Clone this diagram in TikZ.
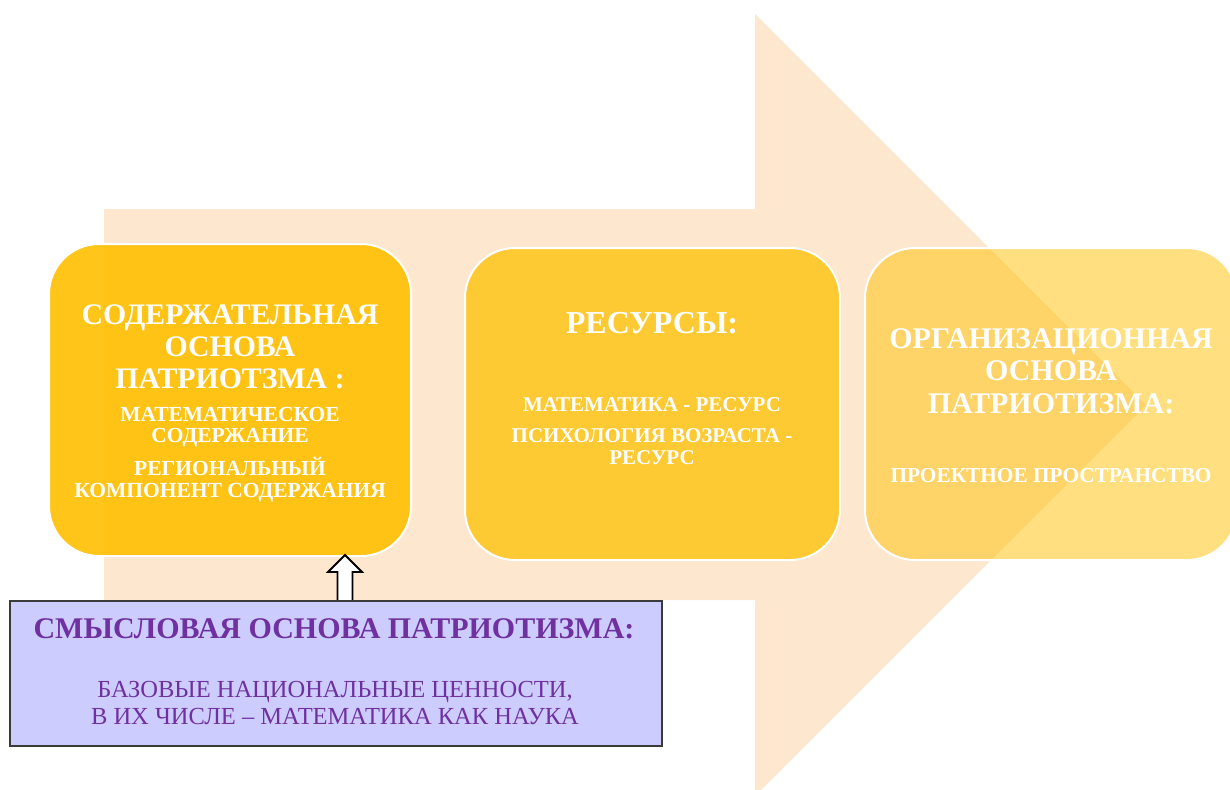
\documentclass[tikz,border=0pt]{standalone}
\usepackage{fontspec}
\setmainfont{Liberation Serif}
\definecolor{peach}{HTML}{FDE8CF}
\definecolor{gold}{HTML}{FFC000}
\definecolor{lilac}{HTML}{CCCCFF}
\definecolor{plum}{HTML}{7030A0}
\definecolor{frame}{HTML}{3A3A3A}
\tikzset{
  stagebox/.style={draw=white, line width=2pt, rounded corners=50pt, fill=gold},
  titletext/.style={text=white, font=\bfseries, align=center, inner sep=0pt, anchor=north},
  bodytext/.style={text=white, font=\bfseries, align=center, inner sep=0pt, anchor=north},
}
\begin{document}
\begin{tikzpicture}[x=1pt,y=-1pt]
\useasboundingbox (0,0) rectangle (1230,789);
\begin{scope}
\clip (0,0) rectangle (1230,789);
% big background arrow
\fill[peach] (104,209) -- (755,209) -- (755,14) -- (1146,405) -- (755,796) -- (755,600) -- (104,600) -- cycle;
% stage boxes
\filldraw[stagebox, fill opacity=0.9] (49,244) rectangle (411,556);
\filldraw[stagebox, fill opacity=0.75] (465,248) rectangle (840,560);
\filldraw[stagebox, fill opacity=0.5] (865,248) rectangle (1237,560);
\end{scope}
\node[titletext, font=\bfseries\fontsize{29.8}{32}\selectfont] (t1) at (230,305)
  {СОДЕРЖАТЕЛЬНАЯ\\ОСНОВА\\ПАТРИОТЗМА :};
\node[bodytext, font=\bfseries\fontsize{21.5}{21.5}\selectfont] (s1) at (230,407)
  {МАТЕМАТИЧЕСКОЕ\\СОДЕРЖАНИЕ\\[9pt]РЕГИОНАЛЬНЫЙ\\КОМПОНЕНТ СОДЕРЖАНИЯ};
\node[titletext, font=\bfseries\fontsize{32}{34}\selectfont] (t2) at (652,312)
  {РЕСУРСЫ:};
\node[bodytext, font=\bfseries\fontsize{21}{22}\selectfont] (s2) at (652,397)
  {МАТЕМАТИКА - РЕСУРС\\[9pt]ПСИХОЛОГИЯ ВОЗРАСТА -\\РЕСУРС};
\node[titletext, font=\bfseries\fontsize{30}{32.5}\selectfont] (t3) at (1051,328)
  {ОРГАНИЗАЦИОННАЯ\\ОСНОВА\\ПАТРИОТИЗМА:};
\node[bodytext, font=\bfseries\fontsize{21.3}{22}\selectfont] (s3) at (1051,468)
  {ПРОЕКТНОЕ ПРОСТРАНСТВО};
% small up arrow
\coordinate (atip) at (345,555);
\filldraw[fill=white, draw=black, line width=1.8pt]
  (atip) -- (362,572) -- (352.5,572) -- (352.5,603) -- (337.5,603) -- (337.5,572) -- (328,572) -- cycle;
% purple box
\node[draw=frame, line width=1.5pt, fill=lilac, minimum width=652pt, minimum height=145pt, inner sep=0pt, anchor=north west] (pb) at (9,600) {};
\node[text=plum, font=\bfseries\fontsize{30}{32}\selectfont, inner sep=0pt, anchor=base] (pt) at (334,638)
  {СМЫСЛОВАЯ ОСНОВА ПАТРИОТИЗМА:};
\node[text=plum, font=\fontsize{24.5}{27.5}\selectfont, align=center, inner sep=0pt, anchor=north] (pl) at (335,681)
  {БАЗОВЫЕ НАЦИОНАЛЬНЫЕ ЦЕННОСТИ,\\В ИХ ЧИСЛЕ – МАТЕМАТИКА КАК НАУКА};
\end{tikzpicture}
\end{document}
